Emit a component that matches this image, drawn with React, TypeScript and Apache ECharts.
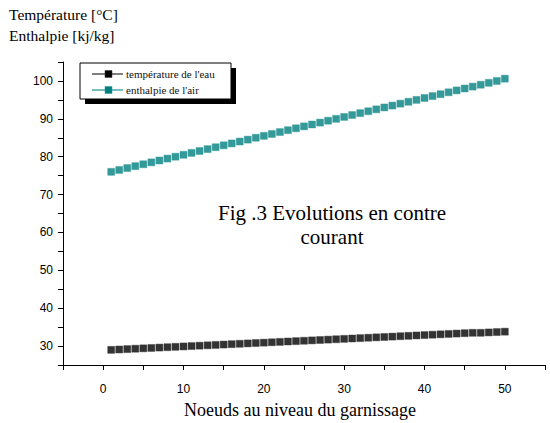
import React, { useEffect, useRef } from "react";
import * as echarts from "echarts";

const nodes: number[] = [
  1, 2, 3, 4, 5, 6, 7, 8, 9, 10, 11, 12, 13, 14, 15, 16, 17, 18, 19, 20, 21, 22, 23, 24, 25,
  26, 27, 28, 29, 30, 31, 32, 33, 34, 35, 36, 37, 38, 39, 40, 41, 42, 43, 44, 45, 46, 47, 48, 49, 50,
];

const temperatureEau: number[] = [
  29.0, 29.1, 29.2, 29.3, 29.4, 29.5, 29.6, 29.7, 29.8, 29.9,
  30.0, 30.1, 30.2, 30.3, 30.4, 30.5, 30.6, 30.7, 30.8, 30.9,
  31.0, 31.1, 31.2, 31.3, 31.4, 31.5, 31.6, 31.7, 31.8, 31.9,
  32.0, 32.1, 32.2, 32.3, 32.4, 32.5, 32.6, 32.7, 32.8, 32.9,
  33.0, 33.1, 33.2, 33.3, 33.4, 33.5, 33.5, 33.6, 33.7, 33.8,
];

const enthalpieAir: number[] = [
  76.0, 76.5, 77.0, 77.5, 78.0, 78.5, 79.0, 79.5, 80.0, 80.5,
  81.0, 81.5, 82.0, 82.5, 83.0, 83.5, 84.0, 84.5, 85.0, 85.5,
  86.0, 86.5, 87.0, 87.5, 88.0, 88.5, 89.0, 89.5, 90.0, 90.5,
  91.0, 91.5, 92.0, 92.5, 93.0, 93.5, 94.0, 94.5, 95.0, 95.5,
  96.0, 96.5, 97.0, 97.5, 98.0, 98.5, 99.0, 99.5, 100.0, 100.6,
];

const seriesNames: string[] = ["température de l'eau", "enthalpie de l'air"];
const yTitleLines: string[] = ["Température [°C]", "Enthalpie [kj/kg]"];
const xTitle = "Noeuds au niveau du garnissage";
const figLines: string[] = ["Fig .3 Evolutions en contre", "courant"];

const SERIF = "'Liberation Serif', 'Times New Roman', serif";
const SANS = "'Liberation Sans', Arial, sans-serif";

export default function App() {
  const ref = useRef<HTMLDivElement>(null);

  useEffect(() => {
    document.body.style.margin = "0";
    if (!ref.current) return;
    const chart = echarts.init(ref.current, null, { renderer: "svg" });

    const axisCommon = {
      axisLine: { show: true, onZero: false, lineStyle: { color: "#000", width: 1 } },
      axisTick: { show: true, inside: false, length: 5, lineStyle: { color: "#000", width: 1 } },
      splitLine: { show: false },
      axisLabel: {
        color: "#000",
        fontFamily: SANS,
        fontSize: 12,
        formatter: (v: number) => (v % 10 === 0 ? String(v) : ""),
      },
    };

    const legendY = [74, 90];
    const legendColors = [
      { line: "#555", fill: "#000", border: "#333" },
      { line: "#4aa8a8", fill: "#008080", border: "#339999" },
    ];

    chart.setOption({
      animation: false,
      backgroundColor: "#fff",
      grid: { left: 63, right: 5, top: 62, bottom: 58, containLabel: false },
      xAxis: {
        type: "value",
        min: -5,
        max: 55,
        interval: 5,
        ...axisCommon,
        axisLabel: { ...axisCommon.axisLabel, margin: 18 },
      },
      yAxis: {
        type: "value",
        min: 25,
        max: 105,
        interval: 5,
        ...axisCommon,
        axisLabel: { ...axisCommon.axisLabel, margin: 10 },
      },
      series: [
        {
          name: seriesNames[0],
          type: "scatter",
          symbol: "rect",
          symbolSize: 7,
          itemStyle: { color: "#000", borderColor: "#333", borderWidth: 0.5 },
          data: nodes.map((n, i) => [n, temperatureEau[i]]),
        },
        {
          name: seriesNames[1],
          type: "scatter",
          symbol: "rect",
          symbolSize: 7,
          itemStyle: { color: "#008080", borderColor: "#339999", borderWidth: 0.5 },
          data: nodes.map((n, i) => [n, enthalpieAir[i]]),
        },
      ],
      graphic: [
        ...yTitleLines.map((t, i) => ({
          type: "text",
          x: 9,
          y: 14 + i * 21,
          style: {
            text: t,
            font: `15.5px ${SERIF}`,
            fill: "#000",
            textAlign: "left",
            textVerticalAlign: "middle",
          },
        })),
        {
          type: "text",
          x: 300,
          y: 410,
          style: {
            text: xTitle,
            font: `18px ${SERIF}`,
            fill: "#000",
            textAlign: "center",
            textVerticalAlign: "middle",
          },
        },
        ...figLines.map((t, i) => ({
          type: "text",
          x: 332,
          y: 213 + i * 24,
          style: {
            text: t,
            font: `21px ${SERIF}`,
            fill: "#000",
            textAlign: "center",
            textVerticalAlign: "middle",
          },
        })),
        {
          type: "rect",
          shape: { x: 85, y: 68, width: 151, height: 36 },
          style: { fill: "#000" },
        },
        {
          type: "rect",
          shape: { x: 80, y: 63, width: 151, height: 36 },
          style: { fill: "#fff", stroke: "#000", lineWidth: 1 },
        },
        ...legendY.flatMap((yy, i) => [
          {
            type: "line",
            shape: { x1: 92, y1: yy, x2: 123, y2: yy },
            style: { stroke: legendColors[i].line, lineWidth: 1.5 },
          },
          {
            type: "rect",
            shape: { x: 105, y: yy - 3.5, width: 7, height: 7 },
            style: { fill: legendColors[i].fill, stroke: legendColors[i].border, lineWidth: 0.5 },
          },
          {
            type: "text",
            x: 126,
            y: yy,
            style: {
              text: seriesNames[i],
              font: `11px ${SERIF}`,
              fill: "#111",
              textAlign: "left",
              textVerticalAlign: "middle",
            },
          },
        ]),
      ],
    });

    return () => chart.dispose();
  }, []);

  return <div ref={ref} style={{ width: 550, height: 423 }} />;
}
